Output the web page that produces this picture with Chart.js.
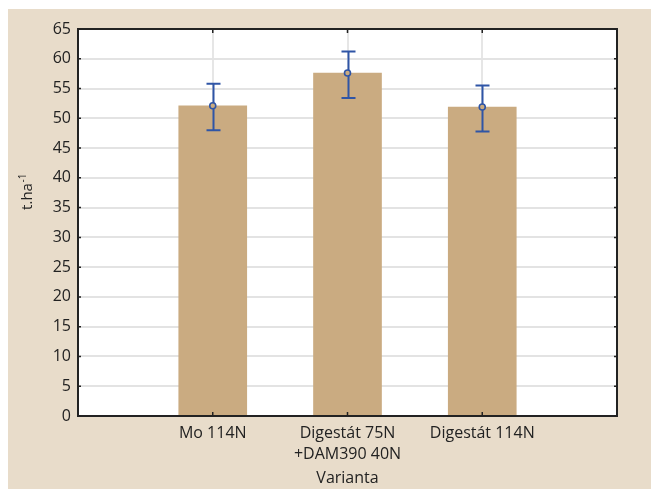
<!DOCTYPE html>
<html><head><meta charset="utf-8">
<script src="https://cdn.jsdelivr.net/npm/chart.js@4/dist/chart.umd.min.js"></script>
<style>
html,body{margin:0;padding:0;background:#fff;width:651px;height:489px;overflow:hidden}
#panel{position:absolute;left:8px;top:9px;width:643px;height:480px;background:#E8DCCA}
canvas{display:block}
</style></head><body>
<div id="panel"><canvas id="c" width="643" height="480"></canvas></div>
<script>
// Yield per variant: mean with upper/lower bounds of the error bar
const categories = ['Mo 114N', ['Digestát 75N', '+DAM390 40N'], 'Digestát 114N'];
const means = [52.1, 57.6, 51.9];
const upper = [55.8, 61.2, 55.5];
const lower = [48.0, 53.4, 47.8];
const yMin = 0, yMax = 65, yStep = 5;
const yTitle = 't.ha';
const yTitleSup = '-1';
const xTitle = 'Varianta';

const FONT = "'Open Sans', 'DejaVu Sans', sans-serif";
const TEXT = '#222';
const BAR = '#CAAB81';
const ERR = '#2F55A6';

// empty slots on both ends give the half-category margins of the frame
const labels = ['', ...categories, ''];
const pad = arr => [null, ...arr, null];

const frameAndTicks = {
  id: 'frameAndTicks',
  beforeDraw(chart) {
    const {ctx, chartArea: a} = chart;
    ctx.save();
    ctx.fillStyle = '#fff';
    ctx.fillRect(a.left, a.top, a.right - a.left, a.bottom - a.top);
    ctx.restore();
  },
  afterDatasetDraw(chart, args) {
    if (args.index !== 0) return;
    const {ctx, scales: {x, y}} = chart;
    ctx.save();
    ctx.strokeStyle = ERR;
    ctx.lineWidth = 2;
    means.forEach((m, i) => {
      const px = Math.round(x.getPixelForValue(i + 1)) + 0.5;
      const yt = y.getPixelForValue(upper[i]);
      const yb = y.getPixelForValue(lower[i]);
      ctx.beginPath();
      ctx.moveTo(px, yt); ctx.lineTo(px, yb);
      ctx.moveTo(px - 7, yt); ctx.lineTo(px + 7, yt);
      ctx.moveTo(px - 7, yb); ctx.lineTo(px + 7, yb);
      ctx.stroke();
    });
    ctx.restore();
  },
  afterDraw(chart) {
    const {ctx, chartArea: a, scales: {x, y}} = chart;
    ctx.save();
    ctx.strokeStyle = '#222';
    ctx.lineWidth = 2;
    ctx.strokeRect(a.left, a.top, a.right - a.left, a.bottom - a.top);
    ctx.lineWidth = 1.5;
    ctx.beginPath();
    for (let v = yMin; v <= yMax; v += yStep) {
      const py = y.getPixelForValue(v);
      ctx.moveTo(a.left, py); ctx.lineTo(a.left + 3, py);
      ctx.moveTo(a.right, py); ctx.lineTo(a.right - 3, py);
    }
    categories.forEach((c, i) => {
      const px = x.getPixelForValue(i + 1);
      ctx.moveTo(px, a.top); ctx.lineTo(px, a.top + 4);
      ctx.moveTo(px, a.bottom); ctx.lineTo(px, a.bottom - 4);
    });
    ctx.stroke();

    // rotated y-axis title with superscript exponent
    ctx.fillStyle = TEXT;
    ctx.translate(20, 183);
    ctx.rotate(-Math.PI / 2);
    ctx.textBaseline = 'middle';
    ctx.font = '15px ' + FONT;
    const w1 = ctx.measureText(yTitle).width;
    ctx.font = '10px ' + FONT;
    const w2 = ctx.measureText(yTitleSup).width;
    const start = -(w1 + w2) / 2;
    ctx.font = '15px ' + FONT;
    ctx.textAlign = 'left';
    ctx.fillText(yTitle, start, 0);
    ctx.font = '10px ' + FONT;
    ctx.fillText(yTitleSup, start + w1 + 0.5, -5);
    ctx.restore();
  }
};

new Chart(document.getElementById('c'), {
  data: {
    labels,
    datasets: [
      {
        type: 'bar',
        data: pad(means),
        backgroundColor: BAR,
        borderWidth: 0,
        barThickness: 68,
        order: 1
      },
      {
        type: 'line',
        data: pad(means),
        showLine: false,
        pointRadius: 3,
        pointBorderWidth: 1.6,
        pointBorderColor: ERR,
        pointBackgroundColor: BAR,
        order: 0
      }
    ]
  },
  options: {
    responsive: false,
    animation: false,
    devicePixelRatio: 1,
    events: [],
    layout: {padding: {left: 0, right: 34, top: 20, bottom: 0}},
    plugins: {legend: {display: false}, tooltip: {enabled: false}},
    scales: {
      x: {
        type: 'category',
        offset: false,
        grid: {color: '#e6e6e6', lineWidth: 2, drawTicks: false, offset: false},
        border: {display: false},
        ticks: {
          color: TEXT,
          padding: 7,
          maxRotation: 0,
          autoSkip: false,
          font: {family: FONT, size: 16, lineHeight: 1.33}
        },
        title: {
          display: true,
          text: xTitle,
          color: TEXT,
          font: {family: FONT, size: 16, lineHeight: 1.3},
          padding: {top: 0, bottom: 0}
        },
        afterFit(s) { s.height = 73; }
      },
      y: {
        min: yMin,
        max: yMax,
        grid: {color: '#e3e3e3', lineWidth: 2, drawTicks: false},
        border: {display: false},
        ticks: {
          stepSize: yStep,
          color: TEXT,
          padding: 7,
          font: {family: FONT, size: 16}
        },
        afterFit(s) { s.width = 70; }
      }
    }
  },
  plugins: [frameAndTicks]
});
</script>
</body></html>
